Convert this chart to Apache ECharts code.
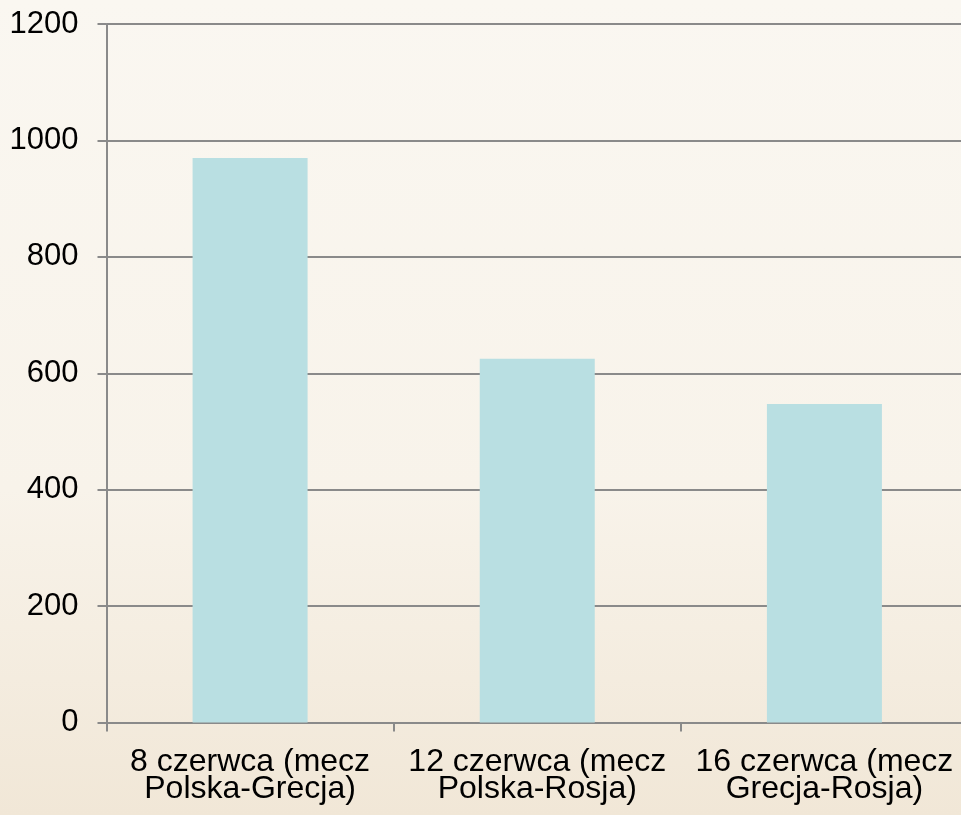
<!DOCTYPE html>
<html>
<head>
<meta charset="utf-8">
<script src="https://cdn.jsdelivr.net/npm/echarts@6/dist/echarts.min.js"></script>
<style>
  html, body { margin: 0; padding: 0; }
  #chart { width: 961px; height: 815px; }
</style>
</head>
<body>
<div id="chart"></div>
<script>
  // dane
  var categories = ['8 czerwca (mecz\nPolska-Grecja)', '12 czerwca (mecz\nPolska-Rosja)', '16 czerwca (mecz\nGrecja-Rosja)'];
  var values = [970, 625, 547];
  var yMin = 0, yMax = 1200, yStep = 200;

  var myChart = echarts.init(document.getElementById('chart'), null, {renderer: 'canvas'});
  var font = '"Liberation Sans", Arial, sans-serif';
  var lineColor = '#8a8a8a';
  var option = {
    animation: false,
    backgroundColor: {
      type: 'linear', x: 0, y: 0, x2: 0, y2: 1,
      colorStops: [
        {offset: 0, color: '#faf7f1'},
        {offset: 0.6, color: '#f8f3ea'},
        {offset: 1, color: '#f1e7d7'}
      ]
    },
    grid: {left: 106.5, right: -7, top: 24, bottom: 92.5, containLabel: false, outerBoundsMode: 'none'},
    xAxis: {
      type: 'category',
      data: categories,
      axisLine: {lineStyle: {color: lineColor, width: 2}},
      axisTick: {show: true, length: 9, lineStyle: {color: lineColor, width: 2}},
      axisLabel: {
        interval: 0,
        margin: 26,
        color: '#000',
        fontFamily: font,
        fontSize: 32,
        lineHeight: 27
      },
      splitLine: {show: false}
    },
    yAxis: {
      type: 'value',
      min: yMin,
      max: yMax,
      interval: yStep,
      axisLine: {show: true, lineStyle: {color: lineColor, width: 2}},
      axisTick: {show: true, length: 9, lineStyle: {color: lineColor, width: 2}},
      axisLabel: {
        margin: 28, color: '#000', fontFamily: font, fontSize: 31,
        formatter: function (v) { return String(v); }
      },
      splitLine: {show: true, lineStyle: {color: lineColor, width: 2}}
    },
    series: [{
      type: 'bar',
      data: values,
      barWidth: 115,
      itemStyle: {color: '#b9dfe2'}
    }]
  };
  option && myChart.setOption(option);
</script>
</body>
</html>
